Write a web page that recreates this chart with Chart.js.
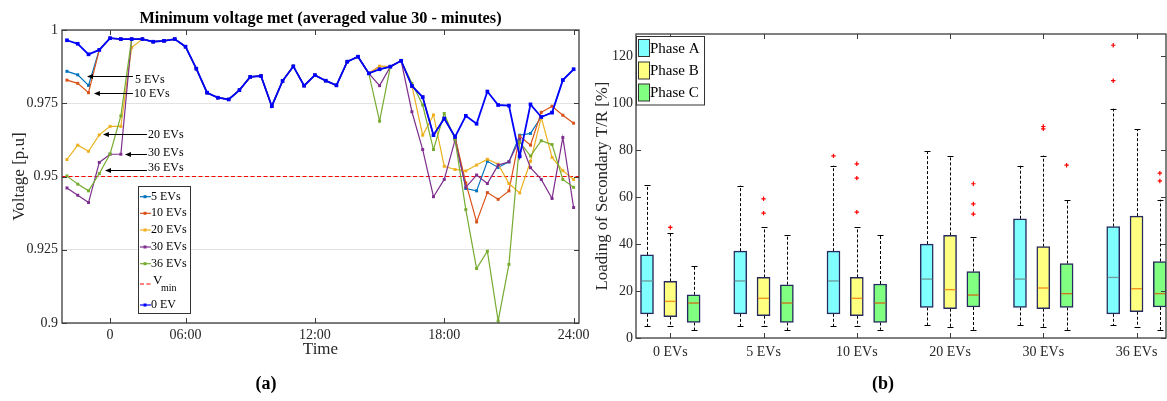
<!DOCTYPE html>
<html>
<head>
<meta charset="utf-8">
<script src="https://cdn.jsdelivr.net/npm/chart.js@4.4.0/dist/chart.umd.min.js"></script>
<style>
  html, body { margin: 0; padding: 0; background: #fff; overflow: hidden; }
  #wrap { position: relative; width: 1167px; height: 401px; }
  #left { position: absolute; left: 0; top: 0; width: 590px; height: 401px; }
  #right { position: absolute; left: 590px; top: 0; width: 577px; height: 401px; }
</style>
</head>
<body>
<div id="wrap">
  <canvas id="left" width="590" height="401"></canvas>
  <canvas id="right" width="577" height="401"></canvas>
</div>
<script>
// ---------- (a) minimum voltage, 48 half-hour slots ----------
const timeTickPos = [4, 11, 23, 35, 47];
const timeTickLabels = ['0', '06:00', '12:00', '18:00', '24:00'];
const voltTicks = [0.9, 0.925, 0.95, 0.975, 1];
const vMin = 0.95;

const ev0 = [0.9965, 0.9953, 0.9917, 0.9932, 0.9972, 0.9969, 0.9969, 0.9969, 0.9960, 0.9963,
             0.9969, 0.9943, 0.9868, 0.9786, 0.9769, 0.9763, 0.9795, 0.9840, 0.9843, 0.9740,
             0.9826, 0.9876, 0.9810, 0.9846, 0.9827, 0.9811, 0.9892, 0.9909, 0.9852, 0.9866,
             0.9875, 0.9895, 0.9809, 0.9771, 0.9641, 0.9698, 0.9635, 0.9707, 0.9680, 0.9790,
             0.9744, 0.9742, 0.9569, 0.9746, 0.9703, 0.9718, 0.9829, 0.9866];
const ev5 = [0.9859, 0.9847, 0.9811, 0.9932, 0.9972, 0.9969, 0.9969, 0.9969, 0.9960, 0.9963,
             0.9969, 0.9943, 0.9868, 0.9786, 0.9769, 0.9763, 0.9795, 0.9840, 0.9843, 0.9740,
             0.9826, 0.9876, 0.9810, 0.9846, 0.9827, 0.9811, 0.9892, 0.9909, 0.9852, 0.9866,
             0.9875, 0.9895, 0.9809, 0.9771, 0.9641, 0.9698, 0.9635, 0.9459, 0.9451, 0.9552,
             0.9531, 0.9550, 0.9641, 0.9647, 0.9703, 0.9718, 0.9829, 0.9866];
const ev10 = [0.9829, 0.9818, 0.9786, 0.9932, 0.9972, 0.9969, 0.9969, 0.9969, 0.9960, 0.9963,
              0.9969, 0.9943, 0.9868, 0.9786, 0.9769, 0.9763, 0.9795, 0.9840, 0.9843, 0.9740,
              0.9826, 0.9876, 0.9810, 0.9846, 0.9827, 0.9811, 0.9892, 0.9909, 0.9852, 0.9876,
              0.9875, 0.9895, 0.9809, 0.9771, 0.9641, 0.9698, 0.9635, 0.9478, 0.9345, 0.9445,
              0.9422, 0.9451, 0.9638, 0.9607, 0.9719, 0.9740, 0.9709, 0.9682];
const ev20 = [0.9558, 0.9607, 0.9586, 0.9642, 0.9671, 0.9671, 0.9940, 0.9969, 0.9960, 0.9963,
              0.9969, 0.9943, 0.9868, 0.9786, 0.9769, 0.9763, 0.9795, 0.9840, 0.9843, 0.9740,
              0.9826, 0.9876, 0.9810, 0.9846, 0.9827, 0.9811, 0.9892, 0.9909, 0.9852, 0.9876,
              0.9875, 0.9895, 0.9809, 0.9641, 0.9710, 0.9535, 0.9524, 0.9519, 0.9539, 0.9559,
              0.9542, 0.9476, 0.9444, 0.9552, 0.9702, 0.9565, 0.9520, 0.9490];
const ev30 = [0.9461, 0.9436, 0.9411, 0.9548, 0.9576, 0.9576, 0.9969, 0.9969, 0.9960, 0.9963,
              0.9969, 0.9943, 0.9868, 0.9786, 0.9769, 0.9763, 0.9795, 0.9840, 0.9843, 0.9740,
              0.9826, 0.9876, 0.9810, 0.9846, 0.9827, 0.9811, 0.9892, 0.9909, 0.9852, 0.9810,
              0.9875, 0.9895, 0.9721, 0.9592, 0.9431, 0.9490, 0.9624, 0.9463, 0.9505, 0.9476,
              0.9539, 0.9550, 0.9627, 0.9530, 0.9490, 0.9425, 0.9633, 0.9394];
const ev36 = [0.9502, 0.9474, 0.9451, 0.9510, 0.9577, 0.9707, 0.9969, 0.9969, 0.9960, 0.9963,
              0.9969, 0.9943, 0.9868, 0.9786, 0.9769, 0.9763, 0.9795, 0.9840, 0.9843, 0.9740,
              0.9826, 0.9876, 0.9810, 0.9846, 0.9827, 0.9811, 0.9892, 0.9909, 0.9852, 0.9689,
              0.9875, 0.9895, 0.9818, 0.9744, 0.9592, 0.9715, 0.9627, 0.9387, 0.9186, 0.9245,
              0.9007, 0.9200, 0.9618, 0.9570, 0.9622, 0.9609, 0.9490, 0.9463];

// arrow call-outs (slot / p.u. coordinates)
const arrowNotes = [
  { text: '5 EVs',  tip: 1.86, tail: 6.12, y: 0.9843, textAt: 6.31, dy: 3 },
  { text: '10 EVs', tip: 2.50, tail: 6.12, y: 0.9785, textAt: 6.22, dy: 0 },
  { text: '20 EVs', tip: 3.34, tail: 7.42, y: 0.9645, textAt: 7.52, dy: 0 },
  { text: '30 EVs', tip: 5.38, tail: 7.42, y: 0.9576, textAt: 7.52, dy: -2 },
  { text: '36 EVs', tip: 3.53, tail: 7.42, y: 0.9522, textAt: 7.52, dy: -3 }
];

// ---------- (b) secondary transformer loading ----------
const groupLabels = ['0 EVs', '5 EVs', '10 EVs', '20 EVs', '30 EVs', '36 EVs'];
const loadTicks = [0, 20, 40, 60, 80, 100, 120];
// [lower whisker, Q1, median, Q3, upper whisker]
const phaseAStats = [[4.9, 10.3, 24.3, 35.4, 65.2], [4.9, 10.3, 24.3, 37.0, 64.9], [4.9, 10.3, 24.3, 37.0, 73.4],
                     [5.4, 13.0, 25.1, 40.0, 79.8], [5.4, 13.0, 25.1, 50.8, 73.4], [5.4, 10.3, 25.8, 47.5, 97.7]];
const phaseBStats = [[4.9, 9.1, 15.6, 24.1, 44.7], [4.9, 9.5, 16.9, 25.8, 47.1], [4.9, 9.5, 16.9, 25.8, 47.1],
                     [4.8, 12.5, 20.6, 43.7, 77.7], [4.8, 12.5, 21.3, 38.9, 77.7], [4.8, 11.2, 21.0, 51.9, 88.9]];
const phaseCStats = [[3.2, 6.6, 14.9, 18.4, 30.5], [3.2, 6.6, 14.9, 22.7, 44.0], [3.5, 6.6, 14.9, 23.0, 44.0],
                     [3.5, 13.2, 18.3, 28.3, 43.0], [3.5, 13.0, 18.9, 31.7, 58.6], [3.5, 13.2, 18.9, 32.6, 58.9]];
const phaseAOutliers = [[], [], [77.6], [], [], [124.7, 109.6]];
const phaseBOutliers = [[47.1], [59.3, 53.2], [74.2, 68.1, 53.6], [], [90.1, 89.1], []];
const phaseCOutliers = [[], [], [], [65.7, 57.1, 52.8], [73.6], [70.2, 66.9]];

const FONT = '"Liberation Serif", "Times New Roman", serif';
const AXIS = '#3c3c3c';
const TXT = '#262626';

// fixed axis sizes so the plot areas sit where they should
const fixHeight = h => s => { s.height = h; s.paddingLeft = 0; s.paddingRight = 0; };
const fixWidth = w => s => { s.width = w; };

// ---------- chart (a) ----------
function lineSet(label, values, color, width, radius, order) {
  return {
    label, order, borderColor: color, backgroundColor: color, borderWidth: width,
    pointStyle: 'rect', pointRadius: radius, pointBorderWidth: 0, pointBackgroundColor: color,
    tension: 0, data: values.map((v, i) => ({ x: i, y: v }))
  };
}

const voltSets = [
  lineSet('5 EVs', ev5, '#0072BD', 1.2, 2.1, 5),
  lineSet('10 EVs', ev10, '#D95319', 1.2, 2.1, 4),
  lineSet('20 EVs', ev20, '#EDB120', 1.2, 2.1, 3),
  lineSet('30 EVs', ev30, '#7E2F8E', 1.2, 2.1, 2),
  lineSet('36 EVs', ev36, '#77AC30', 1.2, 2.1, 1),
  { label: 'Vmin', order: 6, borderColor: '#FF0000', borderWidth: 1, borderDash: [4, 2.5], pointRadius: 0,
    data: [{ x: -0.46, y: vMin }, { x: 47.5, y: vMin }] },
  lineSet('0 EV', ev0, '#0000FF', 1.8, 2.6, 0)
];

function frameAndTicks(ctx, a, xs, ys, xVals, yVals) {
  ctx.save();
  ctx.strokeStyle = AXIS; ctx.lineWidth = 1.3;
  ctx.strokeRect(a.left, a.top, a.right - a.left, a.bottom - a.top);
  ctx.lineWidth = 1;
  ctx.beginPath();
  xVals.forEach(v => {
    const px = Math.round(xs.getPixelForValue(v)) + 0.5;
    ctx.moveTo(px, a.bottom); ctx.lineTo(px, a.bottom - 5);
    ctx.moveTo(px, a.top); ctx.lineTo(px, a.top + 5);
  });
  yVals.forEach(v => {
    const py = Math.round(ys.getPixelForValue(v)) + 0.5;
    ctx.moveTo(a.left, py); ctx.lineTo(a.left + 5, py);
    ctx.moveTo(a.right, py); ctx.lineTo(a.right - 5, py);
  });
  ctx.stroke();
  ctx.restore();
}

const voltDecor = {
  id: 'voltDecor',
  afterDraw(chart) {
    const { ctx, chartArea: a, scales: { x, y } } = chart;
    frameAndTicks(ctx, a, x, y, timeTickPos, voltTicks);
    ctx.save();

    // call-outs
    ctx.strokeStyle = '#000'; ctx.fillStyle = '#000'; ctx.lineWidth = 1;
    ctx.font = `12px ${FONT}`; ctx.textAlign = 'left'; ctx.textBaseline = 'middle';
    arrowNotes.forEach(n => {
      const py = Math.round(y.getPixelForValue(n.y)) + 0.5;
      const x0 = x.getPixelForValue(n.tip), x1 = x.getPixelForValue(n.tail);
      ctx.beginPath(); ctx.moveTo(x1, py); ctx.lineTo(x0 + 4, py); ctx.stroke();
      ctx.beginPath(); ctx.moveTo(x0, py); ctx.lineTo(x0 + 6, py - 2.5); ctx.lineTo(x0 + 6, py + 2.5);
      ctx.closePath(); ctx.fill();
      ctx.fillText(n.text, x.getPixelForValue(n.textAt), py + n.dy);
    });

    // title and axis titles
    ctx.fillStyle = '#000';
    ctx.font = `bold 16.3px ${FONT}`; ctx.textAlign = 'center';
    ctx.fillText('Minimum voltage met (averaged value 30 - minutes)', (a.left + a.right) / 2, 19);
    ctx.fillStyle = TXT;
    ctx.font = `17px ${FONT}`;
    ctx.fillText('Time', (a.left + a.right) / 2, 350);
    ctx.save();
    ctx.translate(20, (a.top + a.bottom) / 2); ctx.rotate(-Math.PI / 2);
    ctx.fillText('Voltage [p.u]', 0, 0);
    ctx.restore();
    ctx.fillStyle = '#000';
    ctx.font = `bold 18px ${FONT}`;
    ctx.fillText('(a)', 266, 384);

    // legend
    const lx = 138, ly = 186, lw = 52, lh = 127;
    ctx.fillStyle = '#fff'; ctx.fillRect(lx, ly, lw, lh);
    ctx.strokeStyle = '#333'; ctx.lineWidth = 1; ctx.strokeRect(lx + 0.5, ly + 0.5, lw, lh);
    const rows = [196.7, 213.3, 230, 247, 263.7, 284, 305];
    chart.data.datasets.forEach((ds, i) => {
      const ry = rows[i];
      ctx.strokeStyle = ds.borderColor; ctx.lineWidth = 1.2;
      ctx.setLineDash(ds.borderDash || []);
      ctx.beginPath(); ctx.moveTo(140, ry); ctx.lineTo(151, ry); ctx.stroke();
      ctx.setLineDash([]);
      if (ds.pointRadius) { ctx.fillStyle = ds.borderColor; ctx.fillRect(143.5, ry - 1.5, 3, 3); }
      ctx.fillStyle = '#000'; ctx.textAlign = 'left';
      if (ds.label === 'Vmin') {
        ctx.font = `13px ${FONT}`; ctx.fillText('V', 153, ry - 3);
        ctx.font = `10px ${FONT}`; ctx.fillText('min', 161, ry + 4);
      } else {
        ctx.font = `12px ${FONT}`; ctx.fillText(ds.label, 151, ry);
      }
    });
    ctx.restore();
  }
};

new Chart(document.getElementById('left'), {
  type: 'line',
  data: { datasets: voltSets },
  options: {
    responsive: false, animation: false, devicePixelRatio: 1,
    layout: { autoPadding: false, padding: { top: 30, right: 11, left: 0, bottom: 0 } },
    plugins: { legend: { display: false }, tooltip: { enabled: false } },
    scales: {
      x: {
        type: 'linear', min: -0.46, max: 47.5,
        grid: { display: false, drawTicks: false }, border: { display: false },
        afterBuildTicks: s => { s.ticks = timeTickPos.map(v => ({ value: v })); },
        afterFit: fixHeight(78),
        ticks: { autoSkip: false, maxRotation: 0, padding: 4, color: TXT, font: { family: FONT, size: 14 },
                 callback: v => timeTickLabels[timeTickPos.indexOf(v)] }
      },
      y: {
        min: 0.9, max: 1,
        afterBuildTicks: s => { s.ticks = voltTicks.map(v => ({ value: v })); },
        afterFit: fixWidth(62),
        grid: { color: '#e2e2e2', drawTicks: false }, border: { display: false },
        ticks: { padding: 4, color: TXT, font: { family: FONT, size: 14 }, callback: v => String(+v.toFixed(3)) }
      }
    }
  },
  plugins: [voltDecor]
});

// ---------- chart (b) ----------
const BOX_EDGE = '#262a5e';
const phases = [
  { name: 'Phase A', stats: phaseAStats, outliers: phaseAOutliers, offset: -0.25, fill: '#80FFFF', median: '#6f9f9f' },
  { name: 'Phase B', stats: phaseBStats, outliers: phaseBOutliers, offset: 0, fill: '#FFFF80', median: '#f0961e' },
  { name: 'Phase C', stats: phaseCStats, outliers: phaseCOutliers, offset: 0.25, fill: '#80FF80', median: '#c8781e' }
];

const outlierPoints = [];
phases.forEach(p => p.outliers.forEach((list, i) => list.forEach(v => outlierPoints.push({ x: i + p.offset, y: v }))));

const boxDecor = {
  id: 'boxDecor',
  beforeDatasetsDraw(chart) {
    const { ctx, chartArea: a, scales: { x, y } } = chart;
    ctx.save();
    ctx.beginPath(); ctx.rect(a.left, a.top, a.right - a.left, a.bottom - a.top); ctx.clip();
    ctx.strokeStyle = '#000'; ctx.lineWidth = 1;
    phases.forEach(p => p.stats.forEach((s, i) => {
      const cx = Math.round(x.getPixelForValue(i + p.offset)) + 0.5;
      ctx.setLineDash([3, 2]);
      ctx.beginPath();
      ctx.moveTo(cx, y.getPixelForValue(s[3])); ctx.lineTo(cx, y.getPixelForValue(s[4]));
      ctx.moveTo(cx, y.getPixelForValue(s[1])); ctx.lineTo(cx, y.getPixelForValue(s[0]));
      ctx.stroke();
      ctx.setLineDash([]);
      ctx.beginPath();
      [s[0], s[4]].forEach(v => {
        const py = Math.round(y.getPixelForValue(v)) + 0.5;
        ctx.moveTo(cx - 3, py); ctx.lineTo(cx + 3, py);
      });
      ctx.stroke();
    }));
    ctx.restore();
  },
  afterDatasetsDraw(chart) {
    const { ctx, chartArea: a, scales: { x, y } } = chart;
    ctx.save();
    ctx.beginPath(); ctx.rect(a.left, a.top, a.right - a.left, a.bottom - a.top); ctx.clip();
    ctx.lineWidth = 1.4;
    phases.forEach(p => p.stats.forEach((s, i) => {
      const cx = x.getPixelForValue(i + p.offset);
      const py = y.getPixelForValue(s[2]);
      ctx.strokeStyle = p.median;
      ctx.beginPath(); ctx.moveTo(cx - 5.5, py); ctx.lineTo(cx + 5.5, py); ctx.stroke();
    }));
    ctx.restore();
  },
  afterDraw(chart) {
    const { ctx, chartArea: a, scales: { x, y } } = chart;
    frameAndTicks(ctx, a, x, y, groupLabels.map((_, i) => i), loadTicks);
    ctx.save();
    ctx.fillStyle = TXT; ctx.textAlign = 'center'; ctx.textBaseline = 'middle';
    ctx.font = `16.8px ${FONT}`;
    ctx.save();
    ctx.translate(13, (a.top + a.bottom) / 2); ctx.rotate(-Math.PI / 2);
    ctx.fillText('Loading of Secondary T/R [%]', 0, 0);
    ctx.restore();
    ctx.fillStyle = '#000';
    ctx.font = `bold 18px ${FONT}`;
    ctx.fillText('(b)', 293, 384);

    // legend
    const lx = 46.5, ly = 36.5, lw = 68, lh = 68.5;
    ctx.fillStyle = '#fff'; ctx.fillRect(lx, ly, lw, lh);
    ctx.strokeStyle = '#333'; ctx.lineWidth = 1; ctx.strokeRect(lx, ly, lw, lh);
    const rowsY = [48, 70.5, 92.5];
    phases.forEach((p, i) => {
      ctx.fillStyle = p.fill; ctx.fillRect(48.5, rowsY[i] - 8.5, 11, 17);
      ctx.strokeStyle = '#333'; ctx.strokeRect(48.5, rowsY[i] - 8.5, 11, 17);
      ctx.fillStyle = '#000'; ctx.textAlign = 'left'; ctx.font = `15px ${FONT}`;
      ctx.fillText(p.name, 60, rowsY[i] + 1);
    });
    ctx.restore();
  }
};

new Chart(document.getElementById('right'), {
  type: 'bar',
  data: {
    datasets: [
      ...phases.map(p => ({
        type: 'bar', label: p.name, grouped: false, barThickness: 13,
        backgroundColor: p.fill, borderColor: BOX_EDGE, borderWidth: 1.5, borderSkipped: false,
        data: p.stats.map((s, i) => ({ x: i + p.offset, y: [s[1], s[3]] }))
      })),
      { type: 'scatter', label: 'Outliers', pointStyle: 'cross', pointRadius: 2.2,
        borderColor: '#FF0000', borderWidth: 1.2, data: outlierPoints }
    ]
  },
  options: {
    responsive: false, animation: false, devicePixelRatio: 1,
    layout: { autoPadding: false, padding: { top: 34, right: 1, left: 0, bottom: 0 } },
    plugins: { legend: { display: false }, tooltip: { enabled: false } },
    scales: {
      x: {
        type: 'linear', offset: false, min: -0.368, max: 5.316,
        grid: { display: false, drawTicks: false }, border: { display: false },
        afterBuildTicks: s => { s.ticks = groupLabels.map((_, i) => ({ value: i })); },
        afterFit: fixHeight(63),
        ticks: { autoSkip: false, maxRotation: 0, padding: 6, color: TXT, font: { family: FONT, size: 14 },
                 callback: v => groupLabels[v] }
      },
      y: {
        min: 0, max: 129.5,
        afterBuildTicks: s => { s.ticks = loadTicks.map(v => ({ value: v })); },
        afterFit: fixWidth(46),
        grid: { display: false, drawTicks: false }, border: { display: false },
        ticks: { padding: 3, color: TXT, font: { family: FONT, size: 14 } }
      }
    }
  },
  plugins: [boxDecor]
});
</script>
</body>
</html>
